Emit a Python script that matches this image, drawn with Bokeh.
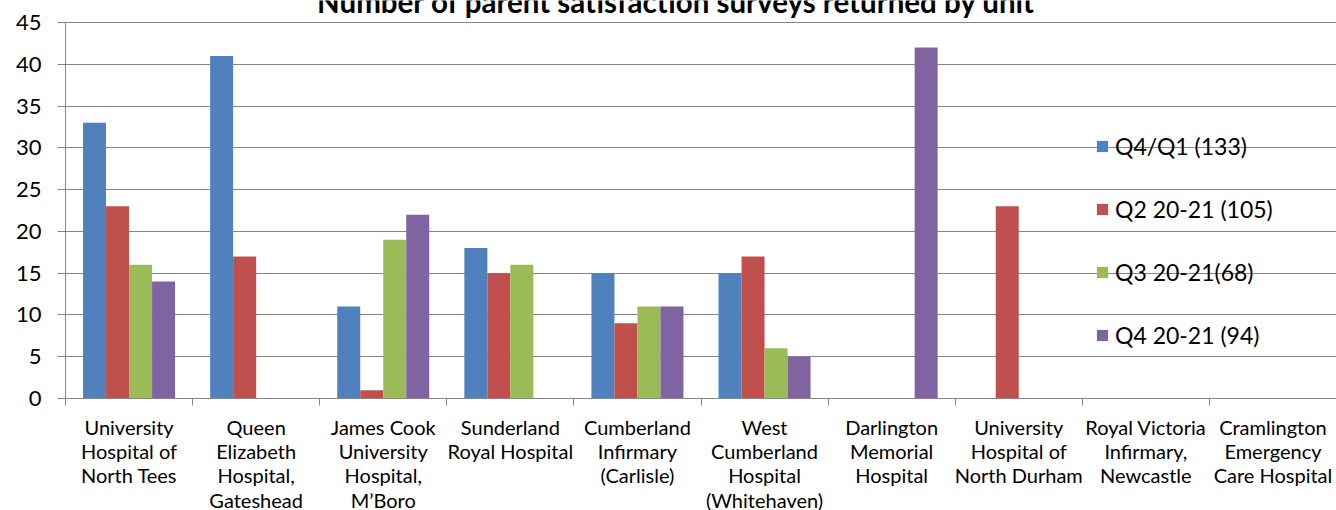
from bokeh.plotting import figure
from bokeh.models import (ColumnDataSource, FactorRange, Range1d, LinearAxis, CategoricalAxis,
                          FixedTicker, SingleIntervalTicker, Label)
from bokeh.transform import dodge
from bokeh.embed import file_html
from bokeh.resources import INLINE

categories = [
    "University\nHospital of\nNorth Tees",
    "Queen\nElizabeth\nHospital,\nGateshead",
    "James Cook\nUniversity\nHospital,\nM\u2019Boro",
    "Sunderland\nRoyal Hospital",
    "Cumberland\nInfirmary\n(Carlisle)",
    "West\nCumberland\nHospital\n(Whitehaven)",
    "Darlington\nMemorial\nHospital",
    "University\nHospital of\nNorth Durham",
    "Royal Victoria\nInfirmary,\nNewcastle",
    "Cramlington\nEmergency\nCare Hospital",
]
series_names = ["Q4/Q1 (133)", "Q2 20-21 (105)", "Q3 20-21(68)", "Q4 20-21 (94)"]
q4q1 = [33, 41, 11, 18, 15, 15, 0, 0, 0, 0]
q2 = [23, 17, 1, 15, 9, 17, 0, 23, 0, 0]
q3 = [16, 0, 19, 16, 11, 6, 0, 0, 0, 0]
q4 = [14, 0, 22, 0, 11, 5, 42, 0, 0, 0]
colors = ["#4F81BD", "#C0504D", "#9BBB59", "#8064A2"]
title_text = "Number of parent satisfaction surveys returned by unit"

FONT = "Lato"
GRAY = "#868686"
Y_MAX = 45

# frame runs to the top of the canvas; the value axis itself stops at Y_MAX
FRAME_H = 398
PLOT_H = 376
y_end = Y_MAX * FRAME_H / PLOT_H

src = ColumnDataSource(dict(cat=categories, s0=q4q1, s1=q2, s2=q3, s3=q4))

p = figure(x_range=FactorRange(*categories, range_padding=0), y_range=Range1d(0, y_end),
           frame_width=1271, frame_height=FRAME_H,
           min_border_left=65, min_border_right=0, min_border_top=0, min_border_bottom=112,
           x_axis_location=None, output_backend="svg", toolbar_location=None,
           outline_line_color=None, background_fill_color="white", border_fill_color="white")

bw = 0.181
offsets = [-1.5 * bw, -0.5 * bw, 0.5 * bw, 1.5 * bw]
for i, (name, col) in enumerate(zip(series_names, colors)):
    p.vbar(x=dodge("cat", offsets[i], range=p.x_range), top="s%d" % i, width=bw,
           source=src, fill_color=col, line_color=None, legend_label=name)

# boundary ticks between categories (minor ticks only, so no labels are produced)
bax = LinearAxis(ticker=FixedTicker(ticks=[], minor_ticks=list(range(len(categories) + 1))),
                 axis_line_color=GRAY, major_tick_line_color=None,
                 minor_tick_line_color=GRAY, minor_tick_out=7, minor_tick_in=0,
                 major_label_standoff=0)
p.add_layout(bax, "below")

cax = CategoricalAxis(axis_line_color=None, major_tick_line_color=None, major_tick_out=0,
                      major_label_standoff=9, major_label_text_font=FONT,
                      major_label_text_font_size="20px", major_label_text_color="#000000",
                      major_label_text_line_height=1.02)
p.add_layout(cax, "below")

ya = p.yaxis[0]
ya.ticker = SingleIntervalTicker(interval=5)
ya.bounds = (0, Y_MAX)
ya.axis_line_color = GRAY
ya.major_tick_line_color = GRAY
ya.major_tick_out = 8
ya.major_tick_in = 0
ya.minor_tick_line_color = None
ya.major_label_standoff = 16
ya.major_label_text_font = FONT
ya.major_label_text_font_size = "22px"
ya.major_label_text_color = "#000000"

p.xgrid.grid_line_color = None
p.ygrid.grid_line_color = GRAY
p.ygrid.ticker = SingleIntervalTicker(interval=5)

lg = p.legend[0]
lg.location = (1030, 49)
lg.padding = 0
lg.margin = 0
lg.spacing = 35
lg.glyph_width = 14
lg.glyph_height = 14
lg.label_height = 28
lg.label_standoff = 6
lg.label_text_font = FONT
lg.label_text_font_size = "23px"
lg.label_text_color = "#000000"
lg.background_fill_alpha = 0
lg.border_line_color = None

p.add_layout(Label(x=611, y=397, x_units="screen", y_units="screen", text=title_text,
                   text_align="center", text_baseline="alphabetic", text_font=FONT,
                   text_font_style="bold", text_font_size="29.5px", text_color="#000000"))

open("out.html", "w").write(file_html(p, INLINE))
